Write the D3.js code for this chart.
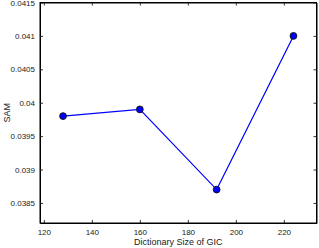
<!DOCTYPE html>
<html>
<head>
<meta charset="utf-8">
<script src="https://cdn.jsdelivr.net/npm/d3@7"></script>
<style>
  body { margin: 0; background: #fff; }
  text { font-family: "Liberation Sans", Arial, sans-serif; }
</style>
</head>
<body>
<div id="container"></div>
<script>
const w = 319, h = 248;
const margin = {top: 2.5, right: 2.5, bottom: 25, left: 40};

// data
const dictSizes = [128, 160, 192, 224];
const samValues = [0.0398, 0.0399, 0.0387, 0.0410];
const xTicks = [120, 140, 160, 180, 200, 220];
const yTicks = [0.0385, 0.039, 0.0395, 0.04, 0.0405, 0.041, 0.0415];

const chart = d3.select('#container')
                .append('svg')
                .attr('width', w)
                .attr('height', h);

const x = d3.scaleLinear()
            .domain([118.4, 233.6])
            .range([margin.left, w - margin.right]);

const y = d3.scaleLinear()
            .domain([0.0382, 0.0415])
            .range([h - margin.bottom, margin.top]);

// axes - ticks pointing inward like matlab
const xAxis = d3.axisBottom(x).tickValues(xTicks)
                .tickSizeInner(-3).tickSizeOuter(0).tickPadding(6);
const yAxis = d3.axisLeft(y).tickValues(yTicks)
                .tickFormat(d => String(+d.toFixed(4)))
                .tickSizeInner(-3).tickSizeOuter(0).tickPadding(5);

chart.append('g')
     .attr('transform', `translate(0,${h - margin.bottom})`)
     .call(xAxis);
chart.append('g')
     .attr('transform', `translate(${margin.left},0)`)
     .call(yAxis);
chart.append('g')
     .attr('transform', `translate(0,${margin.top})`)
     .call(d3.axisTop(x).tickValues(xTicks).tickFormat('').tickSizeInner(-3).tickSizeOuter(0));
chart.append('g')
     .attr('transform', `translate(${w - margin.right},0)`)
     .call(d3.axisRight(y).tickValues(yTicks).tickFormat('').tickSizeInner(-3).tickSizeOuter(0));

chart.selectAll('.tick text')
     .attr('font-size', 8)
     .attr('font-family', '"Liberation Sans", Arial, sans-serif')
     .attr('fill', '#222');
chart.selectAll('.tick line').attr('stroke', '#333');
chart.selectAll('.domain').attr('stroke', '#000');

// frame
chart.append('rect')
     .attr('x', margin.left)
     .attr('y', margin.top)
     .attr('width', w - margin.right - margin.left)
     .attr('height', h - margin.bottom - margin.top)
     .attr('fill', 'none')
     .attr('stroke', '#000')
     .attr('stroke-width', 1);

// titles
chart.append('text')
     .attr('x', (margin.left + w - margin.right) / 2)
     .attr('y', 245)
     .attr('text-anchor', 'middle')
     .attr('font-size', 9)
     .attr('fill', '#222')
     .text('Dictionary Size of GIC');

chart.append('text')
     .attr('transform', `translate(10,${(margin.top + h - margin.bottom) / 2}) rotate(-90)`)
     .attr('text-anchor', 'middle')
     .attr('font-size', 9)
     .attr('fill', '#222')
     .text('SAM');

// line + markers
const line = d3.line()
               .x((d, i) => x(dictSizes[i]))
               .y(d => y(d));

chart.append('path')
     .datum(samValues)
     .attr('d', line)
     .attr('fill', 'none')
     .attr('stroke', '#0000ff')
     .attr('stroke-width', 1.2);

chart.selectAll('circle.pt')
     .data(samValues).enter()
     .append('circle')
     .attr('class', 'pt')
     .attr('cx', (d, i) => x(dictSizes[i]))
     .attr('cy', d => y(d))
     .attr('r', 3.4)
     .attr('fill', '#0000ff')
     .attr('stroke', '#111')
     .attr('stroke-width', 0.9);
</script>
</body>
</html>
